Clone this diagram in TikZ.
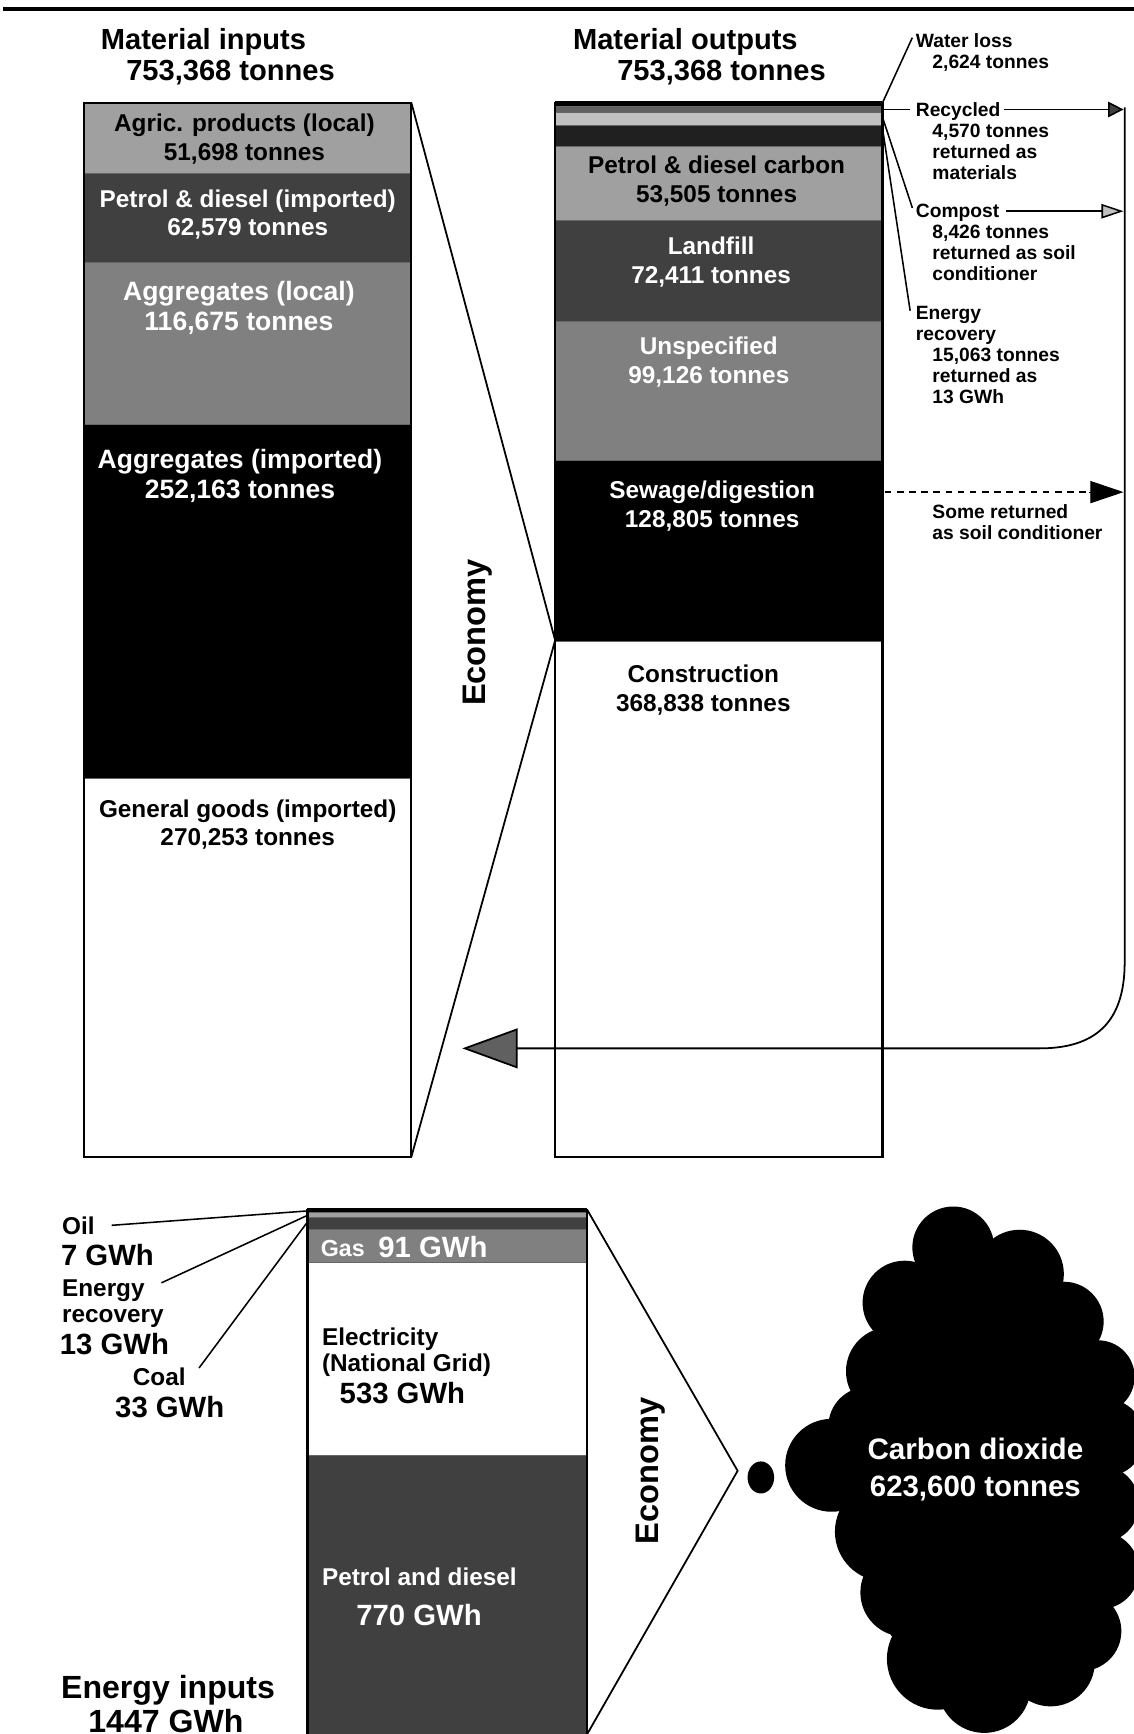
\documentclass[tikz,border=0pt]{standalone}
\usepackage{fontspec}
\setmainfont{Liberation Sans}
\usetikzlibrary{arrows.meta}
\definecolor{gA}{HTML}{A0A0A0}
\definecolor{gB}{HTML}{404040}
\definecolor{gC}{HTML}{808080}
\definecolor{gD}{HTML}{C0C0C0}
\definecolor{gE}{HTML}{606060}
\definecolor{gF}{HTML}{202020}
\newcommand\fsz[1]{\fontsize{#1}{#1}\selectfont\bfseries}
\begin{document}
\begin{tikzpicture}[x=1pt,y=-1pt,
  txt/.style={inner sep=0pt, anchor=base, font=\fsz{22}},
  txtw/.style={txt, text=white},
  big/.style={inner sep=0pt, anchor=base west, font=\fsz{26.5}},
  small/.style={inner sep=0pt, anchor=base west, font=\fsz{22}},
  ann/.style={inner sep=0pt, anchor=base west, font=\fsz{17.4}},
  title/.style={inner sep=0pt, anchor=base west, font=\fsz{26.3}},
  econ/.style={inner sep=0pt, rotate=90, font=\fsz{29.5}},
  band/.style={draw=black!60, line width=0.6pt},
  frame/.style={draw=black, line width=2pt},
  thin/.style={draw=black, line width=1.6pt},
  puff/.style={fill=black}]
\useasboundingbox (0,0) rectangle (1025,1568);
% top rule
\draw[line width=3pt] (3,8) -- (1025,8);

% ---------- titles
\node[title] (ti1) at (91,45) {Material inputs};
\node[title] (ti2) at (114,73) {753,368 tonnes};
\node[title] (to1) at (518,45) {Material outputs};
\node[title] (to2) at (558,73) {753,368 tonnes};

% ---------- left column
\filldraw[band, fill=gA] (76,93) rectangle (372,157);
\filldraw[band, fill=gB] (76,157) rectangle (372,237);
\filldraw[band, fill=gC] (76,237) rectangle (372,384);
\filldraw[band, fill=black] (76,384) rectangle (372,704);
\filldraw[band, fill=white] (76,704) rectangle (372,1046);
\draw[frame] (76,93) rectangle (372,1046);
\node[txt] (l1a) at (221,119) {Agric. products (local)};
\node[txt] (l1b) at (221,145) {51,698 tonnes};
\node[txtw] (l2a) at (224,188) {Petrol \& diesel (imported)};
\node[txtw] (l2b) at (224,213) {62,579 tonnes};
\node[txtw, font=\fsz{24}] (l3a) at (216,272) {Aggregates (local)};
\node[txtw, font=\fsz{24}] (l3b) at (216,299) {116,675 tonnes};
\node[txtw, font=\fsz{24}] (l4a) at (217,424) {Aggregates (imported)};
\node[txtw, font=\fsz{24}] (l4b) at (217,451) {252,163 tonnes};
\node[txt] (l5a) at (224,739) {General goods (imported)};
\node[txt] (l5b) at (224,765) {270,253 tonnes};

% ---------- right column
\filldraw[band, fill=black] (502,93) rectangle (798,96.3);
\filldraw[band, fill=gE] (502,96.3) rectangle (798,102);
\filldraw[band, fill=gD] (502,102) rectangle (798,113);
\filldraw[band, fill=gF] (502,113) rectangle (798,132);
\filldraw[band, fill=gA] (502,132) rectangle (798,199.5);
\filldraw[band, fill=gB] (502,199.5) rectangle (798,291);
\filldraw[band, fill=gC] (502,291) rectangle (798,416.5);
\filldraw[band, fill=black] (502,416.5) rectangle (798,579.5);
\filldraw[band, fill=white] (502,579.5) rectangle (798,1046);
\draw[frame] (502,93) rectangle (798,1046);
\draw[line width=3pt] (502,93) -- (798,93);
\node[txt] (r1a) at (648,157) {Petrol \& diesel carbon};
\node[txt] (r1b) at (648,183) {53,505 tonnes};
\node[txtw] (r2a) at (643,230) {Landfill};
\node[txtw] (r2b) at (643,256) {72,411 tonnes};
\node[txtw] (r3a) at (641,321) {Unspecified};
\node[txtw] (r3b) at (641,347) {99,126 tonnes};
\node[txtw] (r4a) at (644,451) {Sewage/digestion};
\node[txtw] (r4b) at (644,477) {128,805 tonnes};
\node[txt] (r5a) at (636,617) {Construction};
\node[txt] (r5b) at (636,643) {368,838 tonnes};

% ---------- economy funnel (materials)
\coordinate (mA) at (372,93);
\coordinate (mB) at (502,579);
\coordinate (mC) at (372,1046);
\draw[thin] (mA) -- (mB) -- (mC);
\node[econ] (eco1) at (432,572) {Economy};

% ---------- annotations
\node[ann] (wl1) at (828,43) {Water loss};
\node[ann] (wl2) at (843,62) {2,624 tonnes};
\node[ann] (rc1) at (828,105) {Recycled};
\node[ann] (rc2) at (843,124) {4,570 tonnes};
\node[ann] (rc3) at (843,143) {returned as};
\node[ann] (rc4) at (843,162) {materials};
\node[ann] (cp1) at (828,197) {Compost};
\node[ann] (cp2) at (843,216) {8,426 tonnes};
\node[ann] (cp3) at (843,235) {returned as soil};
\node[ann] (cp4) at (843,254) {conditioner};
\node[ann] (er1) at (828,289) {Energy};
\node[ann] (er2) at (828,308) {recovery};
\node[ann] (er3) at (843,327) {15,063 tonnes};
\node[ann] (er4) at (843,346) {returned as};
\node[ann] (er5) at (843,365) {13 GWh};
\node[ann] (sr1) at (843,469) {Some returned};
\node[ann] (sr2) at (843,488) {as soil conditioner};

\coordinate (wlA) at (798,93);   \coordinate (wlB) at (825,34);
\coordinate (rcA) at (798,99);   \coordinate (rcB) at (823,99);
\coordinate (rcC) at (908,99);   \coordinate (rcD) at (1016,99);
\coordinate (cpA) at (798,106);  \coordinate (cpB) at (825,188);
\coordinate (cpC) at (910,191);  \coordinate (cpD) at (1016,191);
\coordinate (erA) at (798,116);  \coordinate (erB) at (823,281);
\coordinate (swA) at (800,445);  \coordinate (swB) at (1016,445);
\draw[line width=1.4pt] (wlA) -- (wlB);
\draw[line width=1.4pt] (rcA) -- (rcB);
\draw[line width=1.4pt] (cpA) -- (cpB);
\draw[line width=1.4pt] (erA) -- (erB);
\draw[line width=1.4pt, -{Triangle[length=14pt,width=14pt,fill=gB]}] (rcC) -- (rcD);
\draw[line width=1.4pt, -{Triangle[length=20pt,width=13pt,fill=gD]}] (cpC) -- (cpD);
\draw[line width=1.4pt, dashed, dash pattern=on 6pt off 5pt] (swA) -- (989,445);
\draw[line width=1pt, -{Triangle[length=30pt,width=20pt,fill=black]}] (985,445) -- (swB);

% return loop
\coordinate (lpA) at (1017,97);
\coordinate (lpB) at (1017,870);
\coordinate (lpC) at (940,948);
\coordinate (lpD) at (418,948);
\draw[line width=1.6pt, -{Triangle[length=50pt,width=36pt,fill=gE]}]
  (lpA) -- (lpB) .. controls (1017,925) and (990,948) .. (lpC) -- (lpD);

% ---------- energy box
\filldraw[band, fill=black] (278,1094) rectangle (531,1096.3);
\filldraw[band, fill=gA] (278,1096.3) rectangle (531,1100.6);
\filldraw[band, fill=gB] (278,1100.6) rectangle (531,1111.4);
\filldraw[band, fill=gC] (278,1111.4) rectangle (531,1141.2);
\filldraw[band, fill=white] (278,1141.2) rectangle (531,1315.8);
\filldraw[band, fill=gB] (278,1315.8) rectangle (531,1572);
\draw[frame] (278,1094) rectangle (531,1572);
\draw[line width=3pt] (278,1094) -- (531,1094);

\node[small, text=white, font=\fsz{21}] (gas1) at (290,1136) {Gas};
\node[big, text=white] (gas2) at (342,1137) {91 GWh};
\node[small] (el1) at (291,1217) {Electricity};
\node[small] (el2) at (291,1240) {(National Grid)};
\node[big] (el3) at (307,1269) {533 GWh};
\node[small, text=white] (pd1) at (291,1434) {Petrol and diesel};
\node[big, text=white] (pd2) at (322,1470) {770 GWh};

\node[small] (oil1) at (56,1116) {Oil};
\node[big] (oil2) at (55,1144) {7 GWh};
\node[small] (en1) at (56,1172) {Energy};
\node[small] (en2) at (56,1196) {recovery};
\node[big] (en3) at (54,1225) {13 GWh};
\node[small] (co1) at (120,1253) {Coal};
\node[big] (co2) at (104,1282) {33 GWh};
\node[inner sep=0pt, anchor=base, font=\fsz{29}] (ei1) at (152,1536) {Energy inputs};
\node[inner sep=0pt, anchor=base, font=\fsz{29}] (ei2) at (150,1567) {1447 GWh};

\coordinate (oA) at (101,1108);  \coordinate (oB) at (278,1095);
\coordinate (nA) at (146,1160);  \coordinate (nB) at (278,1099);
\coordinate (cA) at (180,1237);  \coordinate (cB) at (278,1105);
\draw[line width=1.4pt] (oA) -- (oB);
\draw[line width=1.4pt] (nA) -- (nB);
\draw[line width=1.4pt] (cA) -- (cB);

% economy funnel (energy)
\coordinate (fA) at (531,1094);
\coordinate (fB) at (667,1330);
\coordinate (fC) at (531,1568);
\draw[thin] (fA) -- (fB) -- (fC);
\node[econ] (eco2) at (588,1330) {Economy};

% ---------- cloud
\fill[puff] (688,1336) ellipse [x radius=12, y radius=14.5];
\fill[puff] (890,1335) ellipse [x radius=118, y radius=205];
\foreach \cx/\cy/\r in {862/1128/37, 818/1178/38, 922/1152/40, 962/1195/36,
  993/1245/33, 805/1240/40, 752/1325/42, 800/1385/45, 818/1440/40,
  848/1500/46, 890/1525/42, 950/1503/40, 978/1475/36, 995/1420/35,
  995/1360/35, 1000/1300/35, 785/1290/36,
  840/1270/60, 950/1260/60, 900/1420/80, 850/1380/60, 960/1340/55}
  \fill[puff] (\cx,\cy) circle [radius=\r];
\node[txt, text=white, font=\fsz{26.8}] (co2a) at (882,1320) {Carbon dioxide};
\node[txt, text=white, font=\fsz{26.6}] (co2b) at (882,1353) {623,600 tonnes};
\end{tikzpicture}
\end{document}
